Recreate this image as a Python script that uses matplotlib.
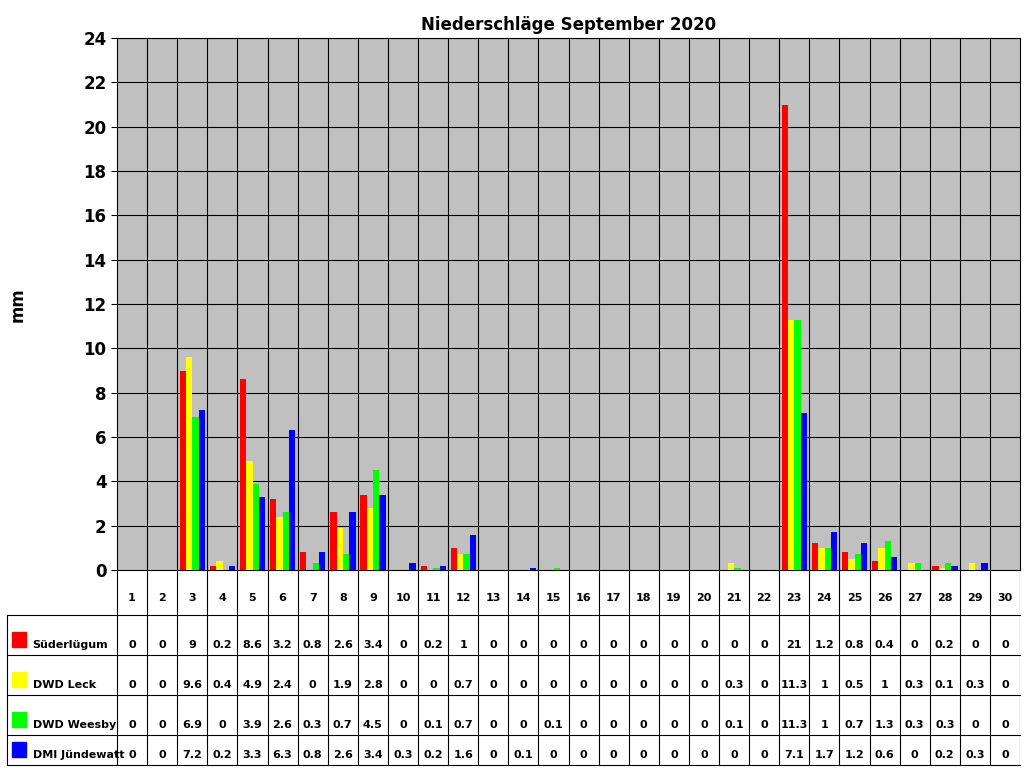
import matplotlib
matplotlib.use("Agg")
import matplotlib.pyplot as plt
import numpy as np

days = list(range(1, 31))
names = ["Süderlügum", "DWD Leck", "DWD Weesby", "DMI Jündewatt"]
colors = ["#FF0000", "#FFFF00", "#00FF00", "#0000FF"]
sued = [0,0,9,0.2,8.6,3.2,0.8,2.6,3.4,0,0.2,1,0,0,0,0,0,0,0,0,0,0,21,1.2,0.8,0.4,0,0.2,0,0]
leck = [0,0,9.6,0.4,4.9,2.4,0,1.9,2.8,0,0,0.7,0,0,0,0,0,0,0,0,0.3,0,11.3,1,0.5,1,0.3,0.1,0.3,0]
weesby = [0,0,6.9,0,3.9,2.6,0.3,0.7,4.5,0,0.1,0.7,0,0,0.1,0,0,0,0,0,0.1,0,11.3,1,0.7,1.3,0.3,0.3,0,0]
dmi = [0,0,7.2,0.2,3.3,6.3,0.8,2.6,3.4,0.3,0.2,1.6,0,0.1,0,0,0,0,0,0,0,0,7.1,1.7,1.2,0.6,0,0.2,0.3,0]
series = [sued, leck, weesby, dmi]

W, H = 1024, 768
fig = plt.figure(figsize=(W/100, H/100), dpi=100)
ax = fig.add_axes([117/W, 1-570/H, (1020-117)/W, (570-38)/H])
ax.set_facecolor("#C0C0C0")
x = np.array(days)
bw = 0.21
offs = [-0.31, -0.1, 0.11, 0.32]
for s, c, o in zip(series, colors, offs):
    ax.bar(x + o, s, width=bw, color=c, zorder=3)
ax.set_xlim(0.5, 30.5)
ax.set_ylim(0, 24)
ax.set_yticks(range(0, 25, 2))
ax.set_xticks([])
for b in np.arange(1.5, 30.5, 1):
    ax.axvline(b, color="black", lw=0.8, zorder=1)
for yv in range(2, 25, 2):
    ax.axhline(yv, color="black", lw=0.8, zorder=1)
for sp in ax.spines.values():
    sp.set_color("black")
ax.tick_params(axis="y", labelsize=12, length=4)
for t in ax.get_yticklabels():
    t.set_fontweight("bold")
ax.set_title("Niederschläge September 2020", fontsize=12, fontweight="bold", pad=6)
fig.text(18/W, 1-305/H, "mm", rotation=90, fontsize=12, fontweight="bold", ha="center", va="center")

# table
tax = fig.add_axes([7/W, 1-765/H, (1020-7)/W, (765-570)/H])
left = 0.5 - 110/30.1
tax.set_xlim(left, 30.5)
tax.set_ylim(765, 570)
tax.axis("off")
rows = [615, 655, 695, 735, 765]
for b in np.arange(0.5, 31.5, 1):
    tax.plot([b, b], [570, 765], color="black", lw=0.8)
tax.plot([left, left], [615, 765], color="black", lw=0.8, clip_on=False)
for r in rows:
    tax.plot([left, 30.5], [r, r], color="black", lw=0.8, clip_on=False)
for d in days:
    tax.text(d, 598, str(d), ha="center", va="center", fontsize=8, fontweight="bold")
for i, (s, n, c) in enumerate(zip(series, names, colors)):
    yb = rows[i + 1] - 10
    tax.text(left + 0.85, yb, n, ha="left", va="center", fontsize=8, fontweight="bold")
    tax.add_patch(plt.Rectangle((left + 0.18, yb + 2), 0.45, -15, color=c, clip_on=False))
    for d, v in zip(days, s):
        tax.text(d, yb, f"{v:g}", ha="center", va="center", fontsize=8, fontweight="bold")

fig.savefig("out.png", dpi=100)
